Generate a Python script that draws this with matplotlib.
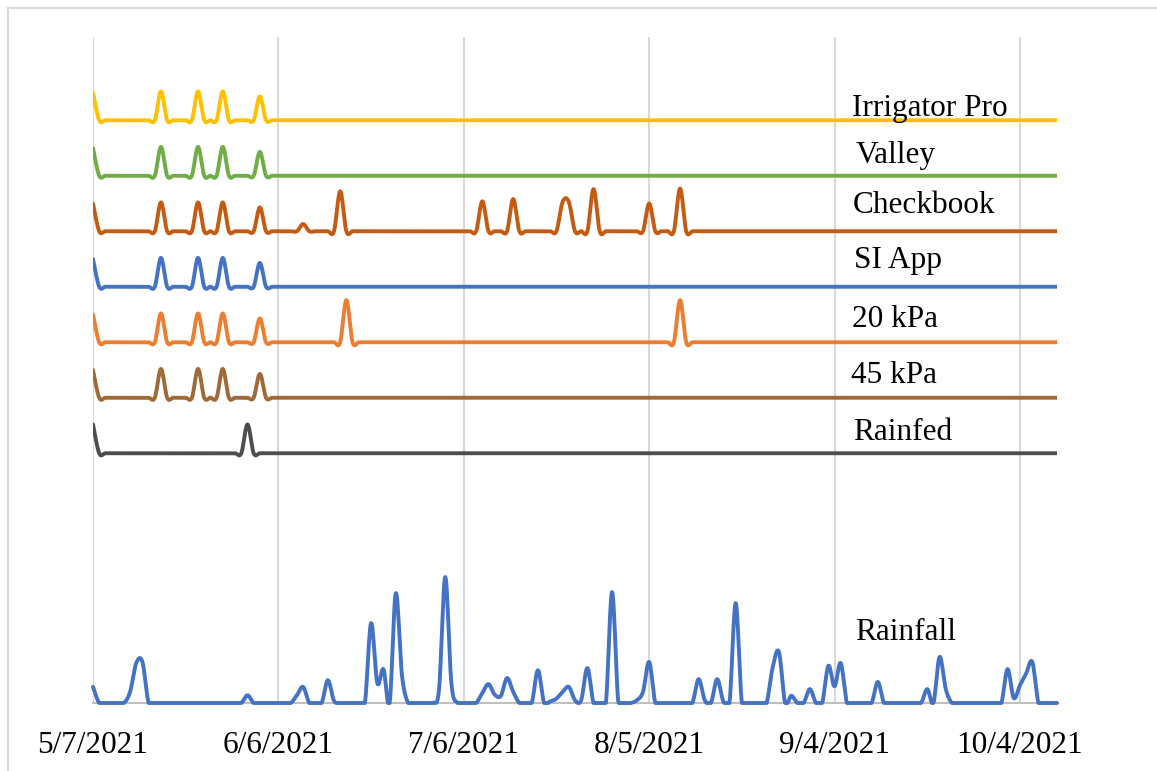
#!/usr/bin/env python3
"""Irrigation events per scheduling method and daily rainfall, 2021 season."""

import datetime as dt

import numpy as np
import matplotlib
matplotlib.use('Agg')
import matplotlib.pyplot as plt
from matplotlib.lines import Line2D

START = dt.date(2021, 5, 7)
N_DAYS = 157

# irrigation events: day index counted from 5/7/2021, amount
base_days = [0, 11, 17, 21, 27]
base_amounts = [5.0, 5.2, 5.2, 5.2, 4.3]
checkbook_days = [0, 11, 17, 21, 27, 34, 40, 63, 68, 76, 77, 81, 90, 95]
checkbook_amounts = [5.0, 5.2, 5.2, 5.2, 4.3, 1.3, 7.2, 5.4, 5.8, 5.3, 5.3, 7.6, 5.0, 7.7]
kpa20_days = [0, 11, 17, 21, 27, 41, 95]
kpa20_amounts = [5.0, 5.2, 5.2, 5.2, 4.3, 7.6, 7.6]
rainfed_days = [0, 25]
rainfed_amounts = [5.2, 5.2]

# daily rainfall (only non-zero days)
rain_days = [0, 6, 7, 8, 25, 33, 34, 38, 39, 45, 46, 47, 49, 50, 56, 57, 58,
             63, 64, 65, 66, 67, 68, 72, 74, 75, 76, 77, 78, 79, 80, 84, 85,
             88, 89, 90, 98, 99, 101, 102, 104, 110, 111, 113, 116, 119, 120,
             121, 127, 135, 137, 138, 148, 149, 150, 151, 152]
rain_amounts = [2.9, 2.0, 7.2, 7.4, 1.4, 1.4, 2.9, 4.1, 0.4, 14.4, 3.6, 6.1, 19.8, 5.0, 2.5, 22.7, 3.5,
                1.8, 3.4, 1.5, 1.3, 4.5, 2.0, 5.9, 0.3, 0.8, 2.0, 2.9, 0.5, 0.5, 6.3, 20.0, 0.3,
                0.5, 2.0, 7.4, 4.3, 0.5, 4.3, 0.3, 18.0, 6.5, 9.2, 1.3, 2.5, 6.7, 3.0,
                7.2, 3.8, 2.5, 8.3, 2.5, 6.1, 0.9, 3.2, 5.3, 7.4]

series_names = ['Irrigator Pro', 'Valley', 'Checkbook', 'SI App', '20 kPa', '45 kPa', 'Rainfed']
series_events = [(base_days, base_amounts), (base_days, base_amounts),
                 (checkbook_days, checkbook_amounts), (base_days, base_amounts),
                 (kpa20_days, kpa20_amounts), (base_days, base_amounts),
                 (rainfed_days, rainfed_amounts)]
series_offsets = [105, 95, 85, 75, 65, 55, 45]
series_colors = ['#FFC000', '#70AD47', '#C55A11', '#4472C4', '#ED7D31', '#9E6A38', '#4D4D4D']
label_y = [105.8, 97.3, 88.3, 78.4, 67.7, 57.7, 47.4]
label_x = [122.8, 123.4, 123.0, 123.1, 122.8, 122.6, 123.0]


def daily(days, amounts):
    vals = np.zeros(N_DAYS)
    vals[days] = amounts
    return vals


def smooth(x, y, n=12):
    # Excel-style smoothed line: cubic Bezier with 1/6 tangent control points
    x = np.asarray(x, float)
    y = np.asarray(y, float)
    px = np.concatenate([[x[0]], x, [x[-1]]])
    py = np.concatenate([[y[0]], y, [y[-1]]])
    t = np.linspace(0, 1, n, endpoint=False)[:, None]
    p0x, p0y = px[1:-2], py[1:-2]
    p3x, p3y = px[2:-1], py[2:-1]
    c1x = p0x + (px[2:-1] - px[:-3]) / 6
    c1y = p0y + (py[2:-1] - py[:-3]) / 6
    c2x = p3x - (px[3:] - px[1:-2]) / 6
    c2y = p3y - (py[3:] - py[1:-2]) / 6
    b = lambda a, c1, c2, d: ((1 - t) ** 3 * a + 3 * (1 - t) ** 2 * t * c1
                              + 3 * (1 - t) * t ** 2 * c2 + t ** 3 * d)
    sx = b(p0x, c1x, c2x, p3x).T.ravel()
    sy = b(p0y, c1y, c2y, p3y).T.ravel()
    return np.append(sx, x[-1]), np.append(sy, y[-1])


def main():
    plt.rcParams['font.family'] = ['Liberation Serif', 'DejaVu Serif']
    fig = plt.figure(figsize=(11.57, 7.71), dpi=100)
    ax = fig.add_axes([93 / 1157, 1 - 703 / 771, (1057 - 93) / 1157, (703 - 37) / 771])

    days = np.arange(N_DAYS)
    for name, (d, a), off, col, lx, ly in zip(series_names, series_events, series_offsets,
                                              series_colors, label_x, label_y):
        sx, sy = smooth(days, daily(d, a) + off)
        ax.plot(sx, sy, color=col, lw=2.8, solid_capstyle='round', zorder=3)
        ax.text(lx, ly, name, fontsize=22.5, va='baseline', ha='left', zorder=4)

    # the smoothed rainfall curve is held at the axis minimum, as Excel does
    sx, sy = smooth(days, daily(rain_days, rain_amounts))
    ax.plot(sx, np.maximum(sy, 0), color='#4472C4', lw=2.8, solid_capstyle='round',
            zorder=3, clip_on=False)
    ax.text(123.3, 11.4, 'Rainfall', fontsize=22.5, va='baseline', ha='left', zorder=4)

    ticks = list(range(0, N_DAYS, 30))
    labels = []
    for k in ticks:
        d = START + dt.timedelta(days=k)
        labels.append(f'{d.month}/{d.day}/{d.year}')
    ax.set_xticks(ticks)
    ax.set_xticklabels(labels, fontsize=22.5)
    ax.tick_params(axis='x', length=0, pad=20)
    ax.set_yticks([])
    ax.set_xlim(0, N_DAYS - 1)
    ax.set_ylim(0, 120)
    ax.grid(axis='x', color='#D9D9D9', lw=1.5, zorder=0)
    ax.set_axisbelow(True)
    for s in ['top', 'right', 'left']:
        ax.spines[s].set_visible(False)
    ax.spines['bottom'].set_color('#BFBFBF')
    ax.spines['bottom'].set_linewidth(1.5)
    ax.spines['bottom'].set_zorder(1)

    # chart area border (left and top edges visible)
    fig.add_artist(Line2D([7.5 / 1157, 7.5 / 1157], [0, 1 - 7.5 / 771],
                          transform=fig.transFigure, color='#D9D9D9', lw=1.5))
    fig.add_artist(Line2D([7.5 / 1157, 1], [1 - 7.5 / 771, 1 - 7.5 / 771],
                          transform=fig.transFigure, color='#D9D9D9', lw=1.5))

    fig.savefig('out.png', dpi=100)
    plt.close(fig)


if __name__ == '__main__':
    main()
